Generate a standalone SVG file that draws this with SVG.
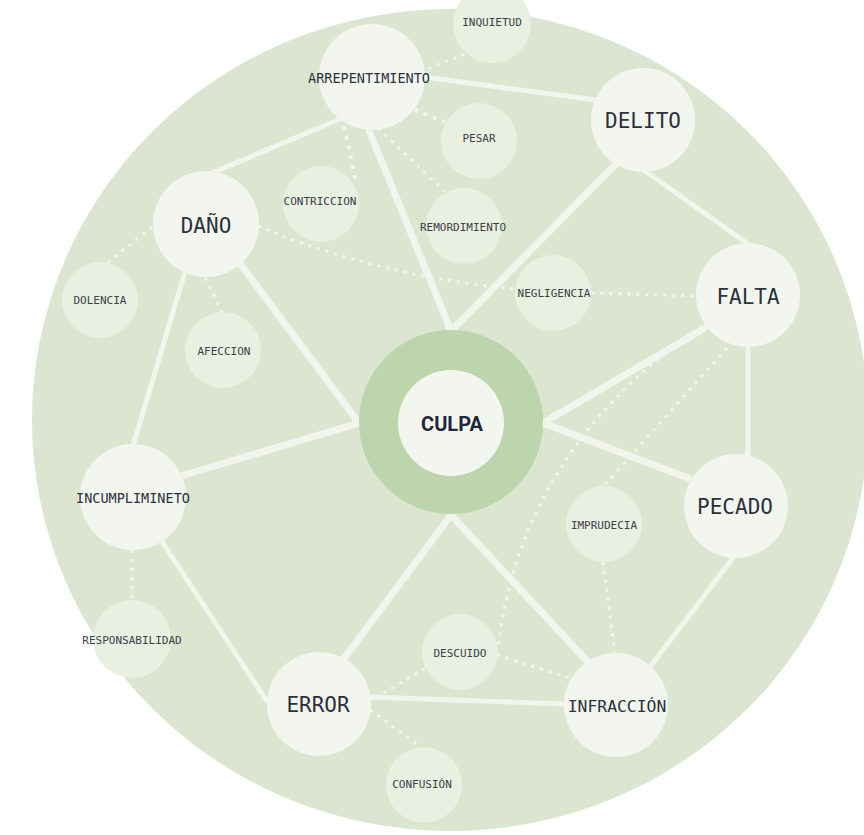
<svg xmlns="http://www.w3.org/2000/svg" width="864" height="835" viewBox="0 0 864 835">
<style>
.bg{fill:#dbe5cf}
.ring{fill:#bcd5ac}
.big{fill:#f3f6ee}
.small{fill:#e9f0e2}
.s{stroke:#f2f5ee;stroke-width:5;fill:none;stroke-linecap:round}
.sp{stroke:#f2f5ee;stroke-width:7;fill:none;stroke-linecap:round}
.d{stroke:#f2f5ee;stroke-width:3;fill:none;stroke-dasharray:3 6}
.dt{stroke:#f2f5ee;stroke-width:4;fill:none;stroke-dasharray:4 6}
text{font-family:"DejaVu Sans Mono","Liberation Mono",monospace;fill:#2c313d;text-anchor:middle}
.t1{font-size:21px}
.t2{font-size:16.4px}
.t3{font-size:13.5px}
.t4{font-size:11px;fill:#3a3f48}
.tc{font-family:Roboto,"Liberation Sans",sans-serif;font-weight:700;font-size:20px;fill:#1e2740}
</style>
<rect width="864" height="835" fill="#ffffff"/>
<ellipse class="bg" cx="450" cy="420" rx="418" ry="411"/>
<g id="connectors">
<line class="s" x1="424" y1="77" x2="596" y2="100"/>
<line class="s" x1="340" y1="119" x2="212" y2="173"/>
<line class="sp" x1="368" y1="128" x2="451" y2="331"/>
<line class="sp" x1="615" y1="165" x2="451" y2="331"/>
<line class="s" x1="645" y1="171" x2="748" y2="244"/>
<line class="sp" x1="705" y1="328" x2="543" y2="423"/>
<line class="s" x1="748" y1="345" x2="748" y2="456"/>
<line class="sp" x1="543" y1="423" x2="688" y2="478"/>
<line class="s" x1="733" y1="558" x2="650" y2="667"/>
<line class="sp" x1="451" y1="515" x2="588" y2="662"/>
<line class="sp" x1="451" y1="515" x2="343" y2="660"/>
<line class="s" x1="370" y1="697" x2="565" y2="704"/>
<line class="s" x1="163" y1="543" x2="266" y2="700"/>
<line class="sp" x1="181" y1="476" x2="359" y2="423"/>
<line class="s" x1="184" y1="275" x2="133" y2="446"/>
<line class="sp" x1="241" y1="265" x2="359" y2="423"/>
<line class="d" x1="420" y1="72" x2="470" y2="52"/>
<line class="dt" x1="405" y1="106" x2="445" y2="122"/>
<line class="dt" x1="344" y1="126" x2="356" y2="182"/>
<line class="d" x1="378" y1="128" x2="445" y2="192"/>
<path class="d" d="M258,226 Q390,282 554,292 L696,296"/>
<line class="d" x1="152" y1="227" x2="108" y2="262"/>
<line class="d" x1="205" y1="278" x2="222" y2="312"/>
<line class="d" x1="132" y1="550" x2="132" y2="600"/>
<line class="d" x1="727" y1="348" x2="604" y2="486"/>
<path class="d" d="M702,326 Q520,450 498,650"/>
<line class="d" x1="603" y1="562" x2="615" y2="653"/>
<line class="d" x1="497" y1="655" x2="570" y2="678"/>
<line class="d" x1="368" y1="702" x2="426" y2="668"/>
<line class="d" x1="370" y1="710" x2="420" y2="746"/>
</g>
<g id="culpa"><circle class="ring" cx="451" cy="422" r="92"/><circle class="big" cx="451" cy="423" r="53"/><text class="tc" x="452" y="431">CULPA</text></g>
<g id="arrepentimiento"><circle class="big" cx="372" cy="77" r="53"/><text class="t3" x="369" y="83">ARREPENTIMIENTO</text></g>
<g id="delito"><circle class="big" cx="643" cy="120" r="52"/><text class="t1" x="643" y="128">DELITO</text></g>
<g id="falta"><circle class="big" cx="748" cy="295" r="52"/><text class="t1" x="748" y="304">FALTA</text></g>
<g id="pecado"><circle class="big" cx="736" cy="506" r="52"/><text class="t1" x="735" y="514">PECADO</text></g>
<g id="infraccion"><circle class="big" cx="616" cy="705" r="52"/><text class="t2" x="617" y="712">INFRACCIÓN</text></g>
<g id="error"><circle class="big" cx="319" cy="704" r="52"/><text class="t1" x="318" y="712">ERROR</text></g>
<g id="incumplimineto"><circle class="big" cx="133" cy="497" r="53"/><text class="t3" x="133" y="503">INCUMPLIMINETO</text></g>
<g id="dano"><circle class="big" cx="206" cy="224" r="53"/><text class="t1" x="206" y="233">DAÑO</text></g>
<g id="inquietud"><circle class="small" cx="492" cy="24" r="39"/><text class="t4" x="492" y="26">INQUIETUD</text></g>
<g id="pesar"><circle class="small" cx="479" cy="141" r="38"/><text class="t4" x="479" y="142">PESAR</text></g>
<g id="contriccion"><circle class="small" cx="321" cy="204" r="38"/><text class="t4" x="320" y="205">CONTRICCION</text></g>
<g id="remordimiento"><circle class="small" cx="464" cy="226" r="38"/><text class="t4" x="463" y="231">REMORDIMIENTO</text></g>
<g id="negligencia"><circle class="small" cx="553" cy="293" r="38"/><text class="t4" x="554" y="297">NEGLIGENCIA</text></g>
<g id="dolencia"><circle class="small" cx="100" cy="300" r="38"/><text class="t4" x="100" y="304">DOLENCIA</text></g>
<g id="afeccion"><circle class="small" cx="223" cy="350" r="38"/><text class="t4" x="224" y="355">AFECCION</text></g>
<g id="imprudecia"><circle class="small" cx="604" cy="524" r="38"/><text class="t4" x="604" y="529">IMPRUDECIA</text></g>
<g id="responsabilidad"><circle class="small" cx="132" cy="639" r="39"/><text class="t4" x="132" y="644">RESPONSABILIDAD</text></g>
<g id="descuido"><circle class="small" cx="460" cy="652" r="38"/><text class="t4" x="460" y="657">DESCUIDO</text></g>
<g id="confusion"><circle class="small" cx="424" cy="785" r="38"/><text class="t4" x="422" y="788">CONFUSIÓN</text></g>
</svg>
